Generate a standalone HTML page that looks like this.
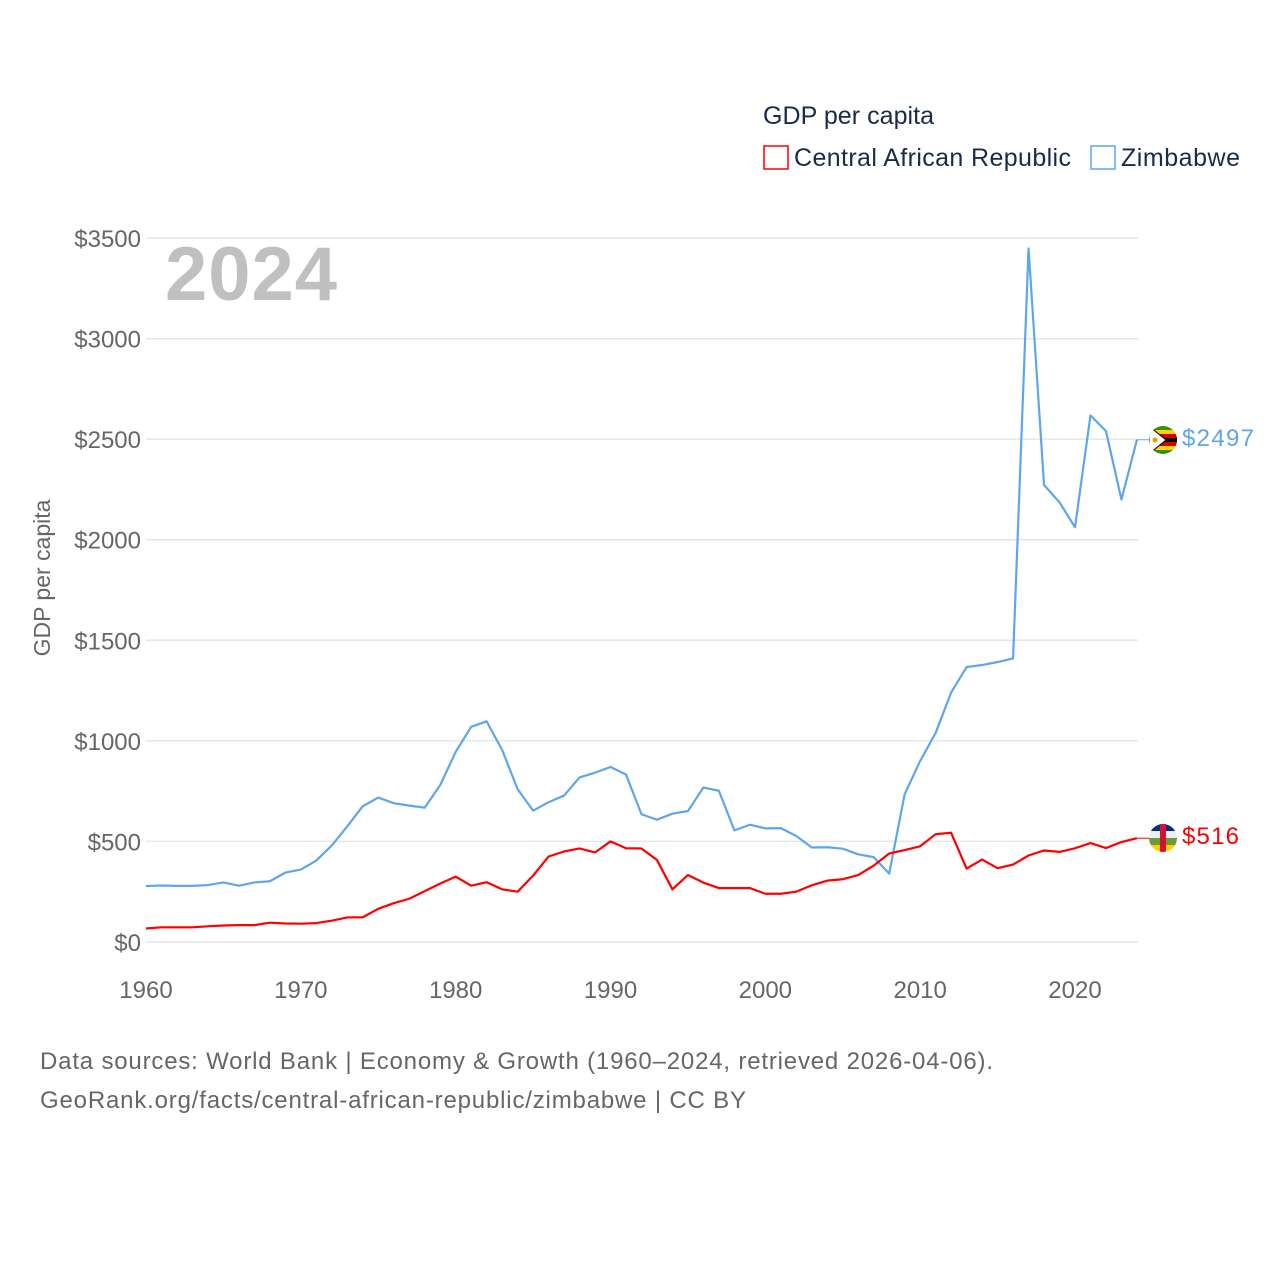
<!DOCTYPE html>
<html><head><meta charset="utf-8"><style>
body{margin:0;background:#fff;font-family:"Liberation Sans",sans-serif}
svg text{font-family:"Liberation Sans",sans-serif}
</style></head><body>
<svg id="chart" width="1280" height="1280" xmlns="http://www.w3.org/2000/svg">
<defs>
<clipPath id="c1"><circle cx="1163" cy="440" r="14"/></clipPath>
<clipPath id="c2"><circle cx="1163" cy="838" r="14"/></clipPath>
</defs>
<text x="763" y="124" font-size="25" fill="#1a2a4a" textLength="171">GDP per capita</text>
<rect x="764" y="146" width="24" height="23" fill="none" stroke="#ff0000" stroke-width="1.5"/>
<text x="794" y="166" font-size="25" fill="#1a2a4a" textLength="277">Central African Republic</text>
<rect x="1091" y="146" width="24" height="23" fill="none" stroke="#5ea6ec" stroke-width="1.5"/>
<text x="1121" y="166" font-size="25" fill="#1a2a4a" textLength="119">Zimbabwe</text>
<g id="grid"></g>
<text x="165" y="300" font-size="76" font-weight="bold" fill="#c0c0c0" textLength="172">2024</text>
<text transform="translate(50,578) rotate(-90)" text-anchor="middle" font-size="23" fill="#666">GDP per capita</text>
<g id="series"></g>
<g clip-path="url(#c1)">
<rect x="1149" y="426" width="28" height="28" fill="#319208"/>
<rect x="1149" y="430" width="28" height="4" fill="#ffd200"/>
<rect x="1149" y="434" width="28" height="4" fill="#d40000"/>
<rect x="1149" y="438" width="28" height="4" fill="#000"/>
<rect x="1149" y="442" width="28" height="4" fill="#d40000"/>
<rect x="1149" y="446" width="28" height="4" fill="#ffd200"/>
<polygon points="1149,426 1166,440 1149,454" fill="#fff" stroke="#000" stroke-width="1"/>
<circle cx="1155" cy="440" r="2.5" fill="#e8a000"/>
</g>
<g clip-path="url(#c2)">
<rect x="1149" y="824" width="28" height="7" fill="#003082"/>
<rect x="1149" y="831" width="28" height="7" fill="#eee"/>
<rect x="1149" y="838" width="28" height="7" fill="#6a9a3a"/>
<rect x="1149" y="845" width="28" height="7" fill="#ffce00"/>
<rect x="1160" y="824" width="6" height="28" fill="#d21034"/>
</g>
<text x="1182" y="446" font-size="24" fill="#5ea6ec" textLength="72">$2497</text>
<text x="1182" y="844" font-size="24" fill="#ff0000" textLength="57">$516</text>
<text x="40" y="1069" font-size="24" fill="#666" textLength="953">Data sources: World Bank | Economy &amp; Growth (1960–2024, retrieved 2026-04-06).</text>
<text x="40" y="1108" font-size="24" fill="#666" textLength="706">GeoRank.org/facts/central-african-republic/zimbabwe | CC BY</text>
</svg>
<script>
const years=[];for(let y=1960;y<=2024;y++)years.push(y);
const zimbabwe=[278,281,279,279,283,296,280,296,302,345,360,405,480,575,675,718,690,678,668,780,945,1070,1097,955,760,653,695,728,818,842,870,833,635,608,638,651,768,752,555,583,565,566,527,470,471,464,436,422,340,735,900,1040,1240,1367,1377,1392,1410,3448,2272,2186,2062,2618,2540,2200,2497];
const car=[67,73,73,73,78,82,84,84,96,92,91,94,106,122,123,165,193,215,253,290,325,280,297,262,250,330,425,450,465,445,500,466,465,408,262,333,295,268,268,268,240,240,250,282,305,312,333,380,440,457,476,536,543,365,410,367,385,430,455,448,466,492,467,497,516];
const yTicks=[0,500,1000,1500,2000,2500,3000,3500];
const xTicks=[1960,1970,1980,1990,2000,2010,2020];
const NS="http://www.w3.org/2000/svg";
const xs=y=>146+(y-1960)*(1075-146)/60;
const ys=v=>942-v*(942-238)/3500;
const grid=document.getElementById('grid');
yTicks.forEach(t=>{
 const l=document.createElementNS(NS,'line');
 l.setAttribute('x1',146);l.setAttribute('x2',1138);l.setAttribute('y1',ys(t));l.setAttribute('y2',ys(t));
 l.setAttribute('stroke','#e6e6e6');l.setAttribute('stroke-width','1.5');
 
 
 grid.appendChild(l);
 const tx=document.createElementNS(NS,'text');
 tx.setAttribute('x',141);tx.setAttribute('y',ys(t)+9);tx.setAttribute('text-anchor','end');
 tx.setAttribute('font-size','24');tx.setAttribute('fill','#666');tx.textContent='$'+t;
 
 
 grid.appendChild(tx);
});
xTicks.forEach(t=>{
 const tx=document.createElementNS(NS,'text');
 tx.setAttribute('x',xs(t));tx.setAttribute('y',998);tx.setAttribute('text-anchor','middle');
 tx.setAttribute('font-size','24');tx.setAttribute('fill','#666');tx.textContent=t;
 
 
 grid.appendChild(tx);
});
const ser=document.getElementById('series');
function line(vals,color,name){
 const p=document.createElementNS(NS,'polyline');
 p.setAttribute('points',vals.map((v,i)=>xs(years[i])+','+ys(v)).join(' '));
 p.setAttribute('fill','none');p.setAttribute('stroke',color);p.setAttribute('stroke-width','2.2');
 p.setAttribute('stroke-linejoin','round');
 
 
 ser.appendChild(p);
 const last=vals[vals.length-1];
 const c=document.createElementNS(NS,'line');
 c.setAttribute('x1',xs(2024));c.setAttribute('x2',1149);c.setAttribute('y1',ys(last));c.setAttribute('y2',ys(last));
 c.setAttribute('stroke',color);c.setAttribute('stroke-width','1');
 
 
 ser.appendChild(c);
}
line(zimbabwe,'#5ea6ec','zimbabwe-line');
line(car,'#ff0000','car-line');
</script>
</body></html>
